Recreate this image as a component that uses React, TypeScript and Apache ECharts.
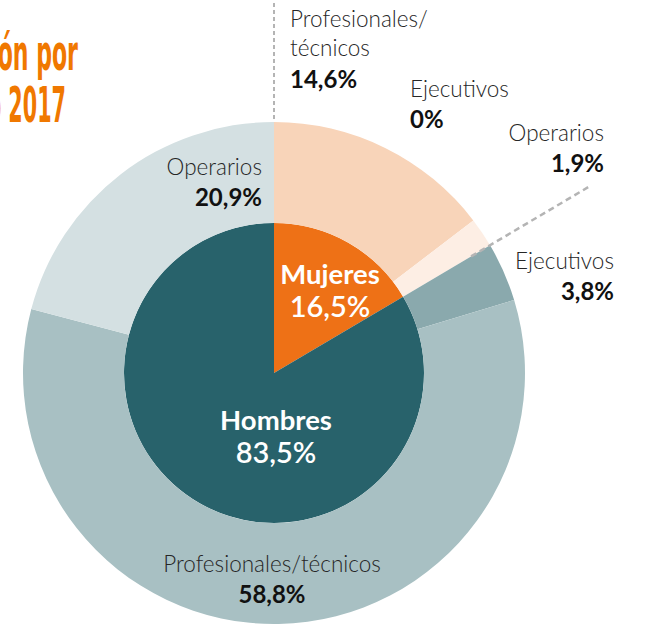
import React, { useEffect, useRef } from "react";
import * as echarts from "echarts";

const genders = ["Mujeres", "Hombres"];
const genderValues = [16.5, 83.5];
const roleNames = [
  "Profesionales/técnicos",
  "Ejecutivos",
  "Operarios",
  "Ejecutivos",
  "Profesionales/técnicos",
  "Operarios",
];
const roleValues = [14.6, 0, 1.9, 3.8, 58.8, 20.9];
const titleLines = ["Distribución por", "cargo, año 2017"];

const genderColors = ["#ee7116", "#28626b"];
const roleColors = ["#f8d4b9", "#fbe4d4", "#fdeee4", "#8aa9ad", "#a8c0c3", "#d4e0e2"];

const CX = 274;
const CY = 373;
const R_IN = 150;
const R_OUT = 251;

// label layout: x, y of first line, alignment, optional line split
const outerLayout = [
  { x: 290, y: 18, align: "left", split: true },
  { x: 410, y: 88, align: "left" },
  { x: 604, y: 132, align: "right" },
  { x: 614, y: 260, align: "right" },
  { x: 272, y: 563, align: "center" },
  { x: 262, y: 166, align: "right" },
];
const innerLayout = [
  { x: 330, y: 273 },
  { x: 276, y: 419 },
];

const fmt = (v: number) => String(v).replace(".", ",") + "%";
const FONT = "Lato, 'Open Sans', sans-serif";
const TITLE_FONT = "bold 49px 'Liberation Sans Narrow', 'DejaVu Sans Condensed', sans-serif";
const LINE = 29.5;

export default function App() {
  const ref = useRef<HTMLDivElement>(null);
  useEffect(() => {
    if (!ref.current) return;
    const chart = echarts.init(ref.current, undefined, { renderer: "svg" });

    const graphics: any[] = [];
    // title (clipped at left edge, as in the reference)
    graphics.push({
      type: "text",
      x: 78,
      y: 77,
      scaleX: 0.5,
      style: {
        text: titleLines[0],
        fill: "#f07800",
        font: TITLE_FONT,
        textAlign: "right",
        textVerticalAlign: "bottom",
      },
    });
    graphics.push({
      type: "text",
      x: 66,
      y: 129,
      scaleX: 0.47,
      style: {
        text: titleLines[1],
        fill: "#f07800",
        font: TITLE_FONT,
        textAlign: "right",
        textVerticalAlign: "bottom",
      },
    });

    // dashed guide lines
    const total = genderValues.reduce((a, b) => a + b, 0);
    const boundary = (genderValues[0] / total) * Math.PI * 2;
    graphics.push({
      type: "line",
      shape: { x1: CX, y1: 3, x2: CX, y2: CY - R_OUT },
      style: { stroke: "#b4b4b4", lineWidth: 2, lineDash: [4, 3] },
      z: 10,
    });
    graphics.push({
      type: "line",
      shape: {
        x1: CX + Math.sin(boundary) * (R_OUT - 22),
        y1: CY - Math.cos(boundary) * (R_OUT - 22),
        x2: CX + Math.sin(boundary) * 368,
        y2: CY - Math.cos(boundary) * 368,
      },
      style: { stroke: "#b4b4b4", lineWidth: 2.5, lineDash: [6, 4] },
      z: 10,
    });

    // outer labels
    roleNames.forEach((name, i) => {
      const L = outerLayout[i];
      const lines = L.split ? name.replace("/", "/\n").split("\n") : [name];
      lines.forEach((ln, k) => {
        graphics.push({
          type: "text",
          x: L.x,
          y: L.y + k * LINE,
          z: 20,
          style: {
            text: ln,
            fill: "#262626",
            font: `300 22.5px ${FONT}`,
            textAlign: L.align,
            textVerticalAlign: "middle",
          },
        });
      });
      graphics.push({
        type: "text",
        x: L.x,
        y: L.y + lines.length * LINE + 1,
        z: 20,
        style: {
          text: fmt(roleValues[i]),
          fill: "#111111",
          font: `bold 24px ${FONT}`,
          textAlign: L.align,
          textVerticalAlign: "middle",
        },
      });
    });

    // inner labels
    genders.forEach((g, i) => {
      const L = innerLayout[i];
      graphics.push({
        type: "text",
        x: L.x,
        y: L.y,
        z: 20,
        style: {
          text: g,
          fill: "#ffffff",
          font: `bold 27.5px ${FONT}`,
          textAlign: "center",
          textVerticalAlign: "middle",
        },
      });
      graphics.push({
        type: "text",
        x: L.x,
        y: L.y + 32,
        z: 20,
        style: {
          text: fmt(genderValues[i]),
          fill: "#ffffff",
          font: `600 29px ${FONT}`,
          textAlign: "center",
          textVerticalAlign: "middle",
        },
      });
    });

    chart.setOption({
      animation: false,
      graphic: graphics,
      series: [
        {
          type: "pie",
          center: [CX, CY],
          radius: [0, R_IN],
          startAngle: 90,
          clockwise: true,
          label: { show: false },
          labelLine: { show: false },
          silent: true,
          itemStyle: { borderWidth: 0 },
          data: genders.map((g, i) => ({
            name: g,
            value: genderValues[i],
            itemStyle: { color: genderColors[i] },
          })),
        },
        {
          type: "pie",
          center: [CX, CY],
          radius: [R_IN, R_OUT],
          startAngle: 90,
          clockwise: true,
          minAngle: 0,
          label: { show: false },
          labelLine: { show: false },
          silent: true,
          itemStyle: { borderWidth: 0 },
          data: roleNames.map((n, i) => ({
            name: n,
            value: roleValues[i],
            itemStyle: { color: roleColors[i] },
          })),
        },
      ],
    });
    return () => chart.dispose();
  }, []);
  return (
    <div
      ref={ref}
      style={{ position: "absolute", left: 0, top: 0, width: 655, height: 628 }}
    />
  );
}
